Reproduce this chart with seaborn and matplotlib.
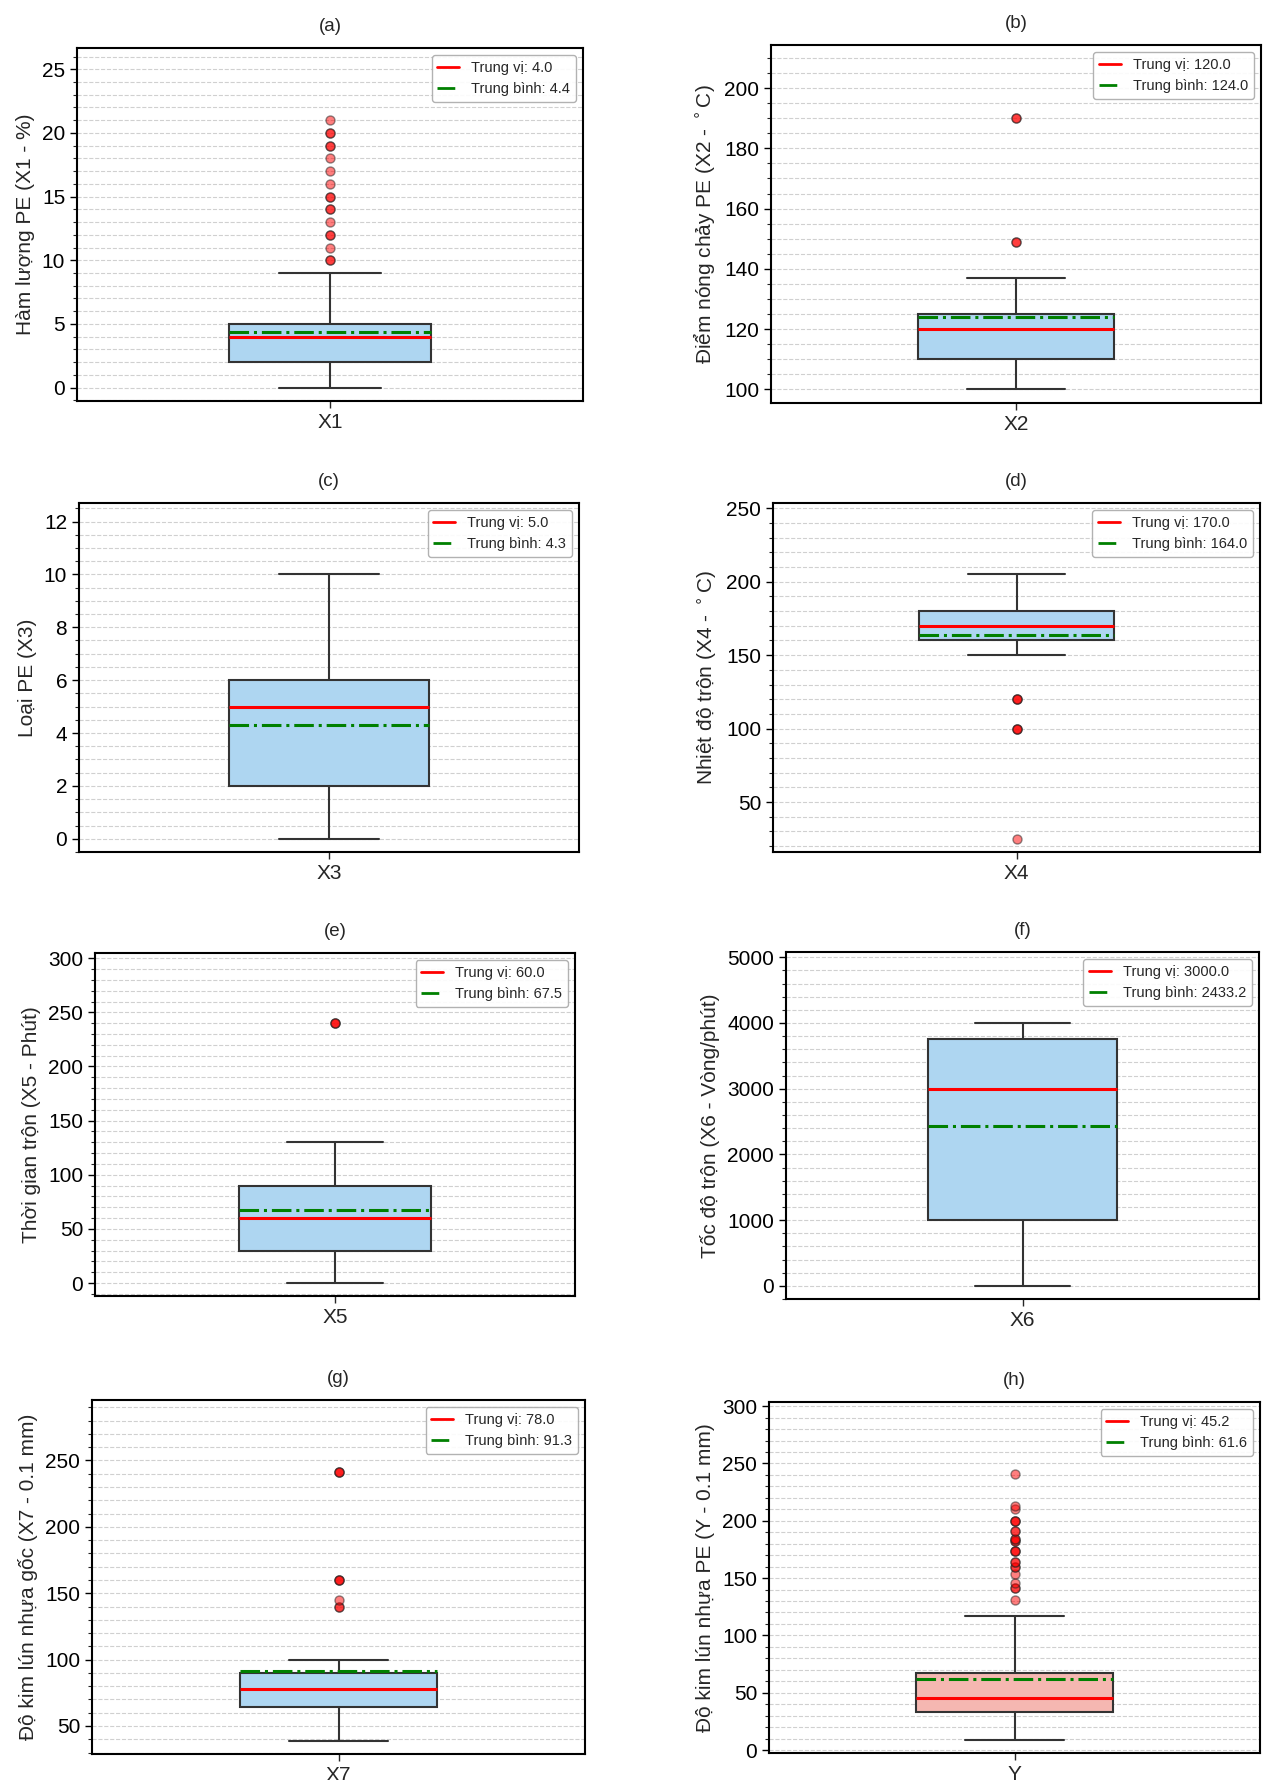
import numpy as np
import pandas as pd
import matplotlib
matplotlib.use("Agg")
import matplotlib.pyplot as plt
import seaborn as sns
from matplotlib.lines import Line2D
from matplotlib.ticker import AutoMinorLocator

# ---------------- data ----------------
var_names = ["X1", "X2", "X3", "X4", "X5", "X6", "X7", "Y"]
panel_labels = ["(a)", "(b)", "(c)", "(d)", "(e)", "(f)", "(g)", "(h)"]
y_labels = [
    "Hàm lượng PE (X1 - %)",
    "Điểm nóng chảy PE (X2 - $^\\circ$C)",
    "Loại PE (X3)",
    "Nhiệt độ trộn (X4 - $^\\circ$C)",
    "Thời gian trộn (X5 - Phút)",
    "Tốc độ trộn (X6 - Vòng/phút)",
    "Độ kim lún nhựa gốc (X7 - 0.1 mm)",
    "Độ kim lún nhựa PE (Y - 0.1 mm)",
]

x1_values = [0, 1, 2, 3, 4, 5, 6, 7, 8, 9, 10, 11, 12, 13, 14, 15, 16, 17, 18, 19, 20, 21]
x1_counts = [4, 6, 16, 10, 14, 23, 2, 2, 1, 1, 2, 1, 2, 1, 2, 2, 1, 1, 1, 2, 2, 1]

x2_values = [100, 105, 110, 115, 120, 125, 130, 137, 149, 190]
x2_counts = [4, 3, 12, 6, 12, 14, 3, 2, 2, 2]

x3_values = [0, 1, 2, 3, 4, 5, 6, 7, 8, 10]
x3_counts = [3, 3, 10, 4, 6, 10, 10, 2, 2, 3]

x4_values = [25, 100, 120, 150, 160, 165, 170, 175, 180, 190, 205]
x4_counts = [1, 3, 3, 4, 12, 4, 14, 4, 12, 3, 3]

x5_values = [0, 15, 30, 45, 60, 75, 90, 110, 130, 240]
x5_counts = [3, 3, 10, 4, 12, 4, 10, 3, 3, 3]

x6_values = [0, 500, 1000, 2000, 3000, 4000]
x6_counts = [3, 3, 8, 5, 12, 11]

x7_values = [39, 50, 64, 70, 78, 85, 90, 100, 140, 145, 160, 241]
x7_counts = [3, 3, 10, 4, 10, 4, 10, 3, 2, 1, 3, 3]

y_values = [9, 15, 20, 25, 29, 33.1, 38, 42, 45.2, 50, 56, 62, 67.4, 75, 85, 95,
            105, 116.5, 131, 141, 146, 154, 160, 164, 174, 182, 184, 191, 200,
            210, 213, 241]
y_counts = [2, 4, 6, 8, 10, 14, 10, 12, 18, 10, 10, 10, 12, 2, 2, 3,
            2, 2, 1, 2, 1, 1, 2, 2, 3, 2, 2, 2, 3,
            1, 1, 1]

mean_values = [4.4, 124.0, 4.3, 164.0, 67.5, 2433.2, 91.3, 61.6]

all_values = [x1_values, x2_values, x3_values, x4_values, x5_values, x6_values, x7_values, y_values]
all_counts = [x1_counts, x2_counts, x3_counts, x4_counts, x5_counts, x6_counts, x7_counts, y_counts]

# ---------------- style ----------------
sns.set_theme(style="white")
plt.rcParams["font.family"] = ["Liberation Sans", "DejaVu Sans"]
plt.rcParams["mathtext.fontset"] = "dejavusans"

W, H = 1264, 1780
fig = plt.figure(figsize=(W / 100, H / 100), dpi=100)
fig.patch.set_facecolor("white")

# axes boxes in pixels: left, right, top, bottom
boxes = [
    (77, 583, 48, 401), (771, 1261, 45, 403),
    (79, 579, 503, 852), (773, 1260, 503, 852),
    (95, 575, 953, 1296), (786, 1259, 952, 1299),
    (92, 585, 1400, 1754), (769, 1260, 1402, 1753),
]
box_colors = ["#AED6F1"] * 7 + ["#F5B7B1"]

for i, name in enumerate(var_names):
    l, r, t, b = boxes[i]
    ax = fig.add_axes([l / W, 1 - b / H, (r - l) / W, (b - t) / H])
    vals = np.repeat(np.array(all_values[i], dtype=float), all_counts[i])
    df = pd.DataFrame({"var": name, "value": vals})
    sns.boxplot(
        data=df, x="var", y="value", ax=ax, width=0.4,
        color=box_colors[i], saturation=1, linecolor="#333333", linewidth=1.5,
        medianprops=dict(color="red", linewidth=2.2),
        flierprops=dict(marker="o", markerfacecolor="red", markeredgecolor="#222222",
                        markersize=6.5, alpha=0.5),
    )
    med = float(np.median(vals))
    mean = mean_values[i]
    ax.hlines(mean, -0.2, 0.2, colors="green", linestyles="-.", linewidth=2.2, zorder=5)
    ax.set_xlim(-0.5, 0.5)

    lo, hi = ax.get_ylim()
    ax.set_ylim(lo, hi + 0.2 * (hi - lo))
    ax.yaxis.set_minor_locator(AutoMinorLocator())
    ax.grid(True, axis="y", which="both", linestyle="--", color="#d0d0d0", linewidth=0.8)
    ax.set_axisbelow(True)
    for s in ax.spines.values():
        s.set_color("black")
        s.set_linewidth(1.5)
    ax.tick_params(axis="y", which="major", left=True, length=5, width=1, labelsize=15, colors="black")
    ax.tick_params(axis="y", which="minor", left=True, length=3, width=0.8)
    ax.tick_params(axis="x", which="major", bottom=True, length=5, width=1, labelsize=15)
    ax.set_xlabel("")
    ax.set_ylabel(y_labels[i], fontsize=15, labelpad=5)
    ax.set_title(panel_labels[i], fontsize=13.5, pad=12)

    handles = [
        Line2D([0], [0], color="red", linewidth=2, label=f"Trung vị: {med:.1f}"),
        Line2D([0], [0], color="green", linewidth=2, linestyle="-.", label=f"Trung bình: {mean:.1f}"),
    ]
    leg = ax.legend(handles=handles, loc="upper right", fontsize=10.5, frameon=True,
                    handlelength=1.5, fancybox=True, framealpha=0.9)
    leg.get_frame().set_edgecolor("#aaaaaa")

fig.savefig("out.png", dpi=100, facecolor="white")
